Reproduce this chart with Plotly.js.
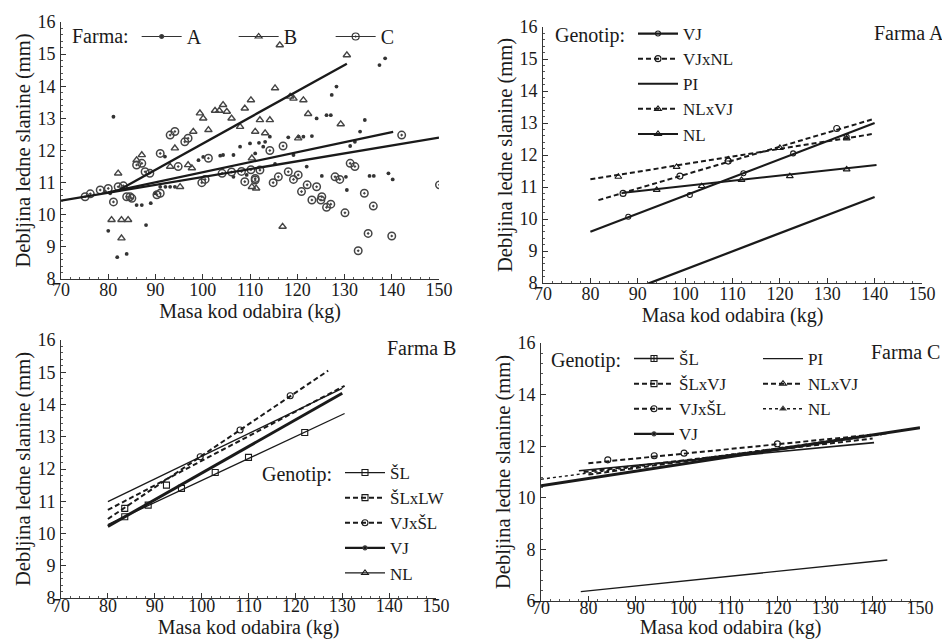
<!DOCTYPE html>
<html>
<head>
<meta charset="utf-8">
<script src="https://cdn.plot.ly/plotly-3.0.1.min.js"></script>
<style>html,body{margin:0;padding:0;background:#fff;}#chart{width:942px;height:639px;}</style>
</head>
<body>
<div id="chart"></div>
<script>
// ---------- Panel 1: all farms (scatter + regression lines) ----------
const p1A_x = [81.1,80.0,81.9,83.9,86.0,87.1,88.0,89.0,91.0,92.1,93.1,94.1,92.0,99.1,100.1,103.7,104.3,106.5,107.9,110.0,111.9,113.2,114.2,111.1,112.8,118.1,120.3,121.3,123.1,119.2,115.3,122.0,124.1,126.2,127.1,127.3,128.3,133.3,134.3,131.2,132.2,137.4,138.6,125.2,130.3,130.5,135.3,136.2,139.3,140.2,106.5,109.3,79.3,80.4,89.9];
const p1A_y = [13.05,9.5,8.68,8.78,10.3,10.3,9.68,10.36,10.87,10.87,10.87,10.87,11.81,11.7,11.8,11.84,11.86,11.86,12.12,12.22,12.24,12.27,12.43,11.91,12.12,12.41,12.43,12.43,12.45,11.86,11.58,11.5,13.0,13.1,13.1,13.73,13.99,12.59,12.95,12.14,12.27,14.66,14.87,11.21,11.18,10.77,11.21,11.21,11.29,11.1,11.18,11.24,10.72,10.67,10.67];
const p1B_x = [116.3,130.5,115.3,118.5,119.2,121.3,122.3,129.2,110.2,112.1,114.2,111.1,113.2,120.2,111.3,116.9,110.4,86.0,87.1,82.1,94.1,98.0,99.4,100.1,101.2,102.6,103.5,104.3,105.1,106.1,108.9,107.9,110.4,93.1,96.9,97.7,95.2,80.7,82.8,84.2,82.8];
const p1B_y = [15.28,14.97,13.94,13.68,13.62,13.57,13.14,12.82,13.57,12.95,12.95,12.59,12.54,12.38,10.82,9.63,10.87,11.7,11.86,11.29,12.07,12.59,13.16,13.0,12.64,13.24,13.24,13.42,13.21,13.0,13.31,12.74,11.76,11.5,11.55,11.45,10.87,9.84,9.84,9.84,9.27];
const p1C_x = [86.0,87.1,87.8,88.8,91.0,93.1,94.1,96.2,96.9,94.8,101.2,90.3,91.0,84.6,83.9,85.0,81.1,75.1,76.2,78.3,80.0,82.1,83.2,100.5,104.1,106.1,108.2,110.2,108.9,111.1,117.0,114.2,112.1,111.1,116.0,118.1,119.2,120.2,114.9,120.9,122.1,124.1,123.1,125.0,125.2,126.2,127.1,128.0,129.0,130.1,131.2,132.2,134.2,136.1,135.0,140.0,132.9,142.1,150.1,99.8];
const p1C_y = [11.55,11.6,11.34,11.29,11.91,12.48,12.59,12.27,12.38,11.5,11.76,10.62,10.67,10.56,10.56,10.51,10.4,10.56,10.65,10.77,10.82,10.87,10.9,11.1,11.29,11.33,11.35,11.4,11.03,11.08,12.14,12.0,11.39,11.13,11.18,11.34,11.1,11.24,11.0,10.72,10.93,10.87,10.46,10.46,10.56,10.23,10.33,11.18,11.1,10.06,11.6,11.5,10.67,10.27,9.42,9.34,8.88,12.48,10.93,11.0];
const p1LineA_x = [80, 140.3], p1LineA_y = [10.7, 12.58];
const p1LineB_x = [82, 130.5], p1LineB_y = [10.75, 14.7];
const p1LineC_x = [70, 150],   p1LineC_y = [10.44, 12.4];

// ---------- Panel 2: Farma A ----------
const p2Names = ['VJ','VJxNL','PI','NLxVJ','NL'];
const p2Line_x = [[80,140],[81.7,139.7],[92.2,140],[80,139.7],[87,140.4]];
const p2Line_y = [[9.6,13.0],[10.59,13.12],[7.98,10.69],[11.24,12.66],[10.82,11.69]];
const p2Mark_x = [[88.0,101.0,112.3,122.8,134.1],[86.9,98.9,109.1,132.0],[],[85.9,98.2,109.1,120.0,134.1],[94.0,103.5,111.9,122.1,134.1]];
const p2Mark_y = [[10.07,10.75,11.43,12.05,12.57],[10.80,11.34,11.81,12.83],[],[11.32,11.63,11.86,12.22,12.52],[10.91,11.03,11.22,11.34,11.55]];

// ---------- Panel 3: Farma B ----------
const p3Names = ['ŠL','ŠLxLW','VJxŠL','VJ','NL'];
const p3Line_x = [[80,130.5],[80,130.5],[80,127],[80,130],[80,130]];
const p3Line_y = [[10.28,13.72],[10.73,14.58],[10.45,15.05],[10.22,14.35],[10.99,14.5]];
const p3Mark_x = [[83.6,88.6,95.7,102.9,110.0,122.0],[83.6,92.5],[99.7,108.2,118.9],[],[]];
const p3Mark_y = [[10.52,10.88,11.4,11.89,12.36,13.13],[10.78,11.5],[12.38,13.21,14.27],[],[]];

// ---------- Panel 4: Farma C ----------
const p4Names = ['ŠL','ŠLxVJ','VJxŠL','VJ','PI','NLxVJ','NL'];
const p4Line_x = [[78,140.3],[79,140],[80,139.6],[70,150],[78.4,143.1],[80,143],[70,142]];
const p4Line_y = [[11.05,12.14],[11.0,12.3],[11.34,12.44],[10.47,12.72],[6.36,7.59],[10.9,12.5],[10.72,12.45]];
const p4Mark_x = [[],[],[84.1,93.9,100.2,119.9],[],[],[],[]];
const p4Mark_y = [[],[],[11.47,11.63,11.73,12.09],[],[],[],[]];

// ---------- styles ----------
const INK = '#1a1a1a';
const SERIF = 'Liberation Serif';
const DASH = '5px,3px';
const p2Style = [
  {dash:'solid', w:2.2, sym:'circle-open', ms:5},
  {dash:DASH, w:2, sym:'circle-open', ms:6},
  {dash:'solid', w:2.2, sym:null, ms:0},
  {dash:DASH, w:2, sym:'triangle-up-open', ms:6},
  {dash:'solid', w:2, sym:'triangle-up-open', ms:6}
];
const p3Style = [
  {dash:'solid', w:1.3, sym:'square-open', ms:6},
  {dash:DASH, w:2, sym:'square-open', ms:6},
  {dash:DASH, w:2, sym:'circle-open', ms:6},
  {dash:'solid', w:3, sym:'circle', ms:4},
  {dash:'solid', w:1.3, sym:'triangle-up-open', ms:6}
];
const p4Style = [
  {dash:'solid', w:1.6, sym:'square-cross-open', ms:6},
  {dash:DASH, w:2, sym:'square-open', ms:6},
  {dash:DASH, w:2, sym:'circle-open', ms:6},
  {dash:'solid', w:3, sym:'circle', ms:4},
  {dash:'solid', w:1.3, sym:null, ms:0},
  {dash:DASH, w:2, sym:'triangle-up-open', ms:6},
  {dash:'3px,3px', w:1.4, sym:'triangle-up', ms:5}
];

const traces = [];

// Panel 1 scatter
traces.push({x:p1A_x, y:p1A_y, xaxis:'x', yaxis:'y', mode:'markers', type:'scatter', showlegend:false,
  marker:{symbol:'circle', size:3.8, color:'#333'}});
traces.push({x:p1B_x, y:p1B_y, xaxis:'x', yaxis:'y', mode:'markers', type:'scatter', showlegend:false,
  marker:{symbol:'triangle-up-open', size:6.5, color:'#444', line:{width:1.4}}});
traces.push({x:p1C_x, y:p1C_y, xaxis:'x', yaxis:'y', mode:'markers', type:'scatter', showlegend:false,
  marker:{symbol:'circle-open-dot', size:7.5, color:'#444', line:{width:1.5}}});
// Panel 1 regression lines
[[p1LineA_x,p1LineA_y],[p1LineB_x,p1LineB_y],[p1LineC_x,p1LineC_y]].forEach(function(l){
  traces.push({x:l[0], y:l[1], xaxis:'x', yaxis:'y', mode:'lines', type:'scatter', showlegend:false,
    line:{color:INK, width:2.3}});
});
// Panel 1 legend keys
[['A','circle',4],['B','triangle-up-open',6],['C','circle-open-dot',7]].forEach(function(k){
  traces.push({x:[null], y:[null], xaxis:'x', yaxis:'y', name:k[0], mode:'lines+markers', type:'scatter',
    legend:'legend', line:{color:'#333', width:1.2}, marker:{symbol:k[1], size:k[2], color:'#333', line:{width:1.2}}});
});

function addPanel(names, lx, ly, mx, my, styles, ax, legendFor){
  names.forEach(function(n, i){
    const s = styles[i];
    traces.push({x:lx[i], y:ly[i], xaxis:'x'+ax, yaxis:'y'+ax, mode:'lines', type:'scatter', showlegend:false,
      line:{color:INK, width:s.w, dash:s.dash}});
    if (mx[i].length && s.sym){
      traces.push({x:mx[i], y:my[i], xaxis:'x'+ax, yaxis:'y'+ax, mode:'markers', type:'scatter', showlegend:false,
        marker:{symbol:s.sym, size:s.ms, color:INK, line:{width:1.1}}});
    }
    traces.push({x:[null], y:[null], xaxis:'x'+ax, yaxis:'y'+ax, name:n, type:'scatter',
      mode: s.sym ? 'lines+markers' : 'lines', legend: legendFor(i),
      line:{color:INK, width:Math.min(s.w,2.2), dash:s.dash},
      marker:{symbol:s.sym || 'circle', size:s.ms || 1, color:INK, line:{width:1.1}}});
  });
}
addPanel(p2Names, p2Line_x, p2Line_y, p2Mark_x, p2Mark_y, p2Style, '2', function(){return 'legend2';});
addPanel(p3Names, p3Line_x, p3Line_y, p3Mark_x, p3Mark_y, p3Style, '3', function(){return 'legend3';});
addPanel(p4Names, p4Line_x, p4Line_y, p4Mark_x, p4Mark_y, p4Style, '4', function(i){return i < 4 ? 'legend4' : 'legend5';});

// ---------- layout (pixel positions converted to paper fractions) ----------
const M = {l:40, r:0, t:0, b:38};
const PW = 942 - M.l - M.r, PH = 639 - M.t - M.b;
function fx(px){ return (px - M.l) / PW; }
function fy(py){ return (639 - M.b - py) / PH; }

function xAx(x0, x1, anchor, lso){
  return {domain:[fx(x0), fx(x1)], anchor:anchor, range:[70,150], dtick:10, tick0:70,
    showline:true, linecolor:'#333', linewidth:1, ticks:'inside', ticklen:5, tickcolor:'#333',
    minor:{dtick:2, ticks:'inside', ticklen:2, tickcolor:'#555'}, ticklabelstandoff:lso,
    showgrid:false, zeroline:false, tickfont:{family:SERIF, size:18, color:INK},
    title:{text:'Masa kod odabira (kg)', font:{family:SERIF, size:20, color:INK}, standoff:0}};
}
function yAx(y0, y1, anchor, range, dtick){
  return {domain:[fy(y1), fy(y0)], anchor:anchor, range:range, dtick:dtick,
    showline:true, linecolor:'#333', linewidth:1, ticks:'inside', ticklen:5, tickcolor:'#333',
    minor:{dtick:dtick/5, ticks:'inside', ticklen:2, tickcolor:'#555'}, ticklabelstandoff:1,
    showgrid:false, zeroline:false, tickfont:{family:SERIF, size:18, color:INK},
    title:{text:'Debljina ledne slanine (mm)', font:{family:SERIF, size:20.5, color:INK}, standoff:1}};
}
function leg(px, py, title, orient, fs, tfs){
  const o = {x:fx(px), y:fy(py), xanchor:'left', yanchor:'top', bgcolor:'rgba(0,0,0,0)', borderwidth:0,
    font:{family:SERIF, size:fs, color:INK}, itemwidth:40, tracegroupgap:0, itemclick:false,
    orientation: orient || 'v'};
  if (title) o.title = {text:title, side:'left', font:{family:SERIF, size:tfs, color:INK}};
  return o;
}
function note(text, px, py){
  return {text:text, xref:'paper', yref:'paper', x:fx(px), y:fy(py), xanchor:'left', yanchor:'middle',
    showarrow:false, font:{family:SERIF, size:20, color:INK}};
}

const layout = {
  width:942, height:639, margin:M, paper_bgcolor:'#fff', plot_bgcolor:'#fff',
  font:{family:SERIF, color:INK},
  xaxis: xAx(61, 439, 'y', -6),  yaxis: yAx(22, 279, 'x', [8,16], 1),
  xaxis2:xAx(543, 922, 'y2', -6), yaxis2:yAx(27, 283, 'x2', [8,16], 1),
  xaxis3:xAx(61, 436, 'y3', -9), yaxis3:yAx(340, 598, 'x3', [8,16], 1),
  xaxis4:xAx(541, 920, 'y4', -10), yaxis4:yAx(343, 601, 'x4', [6,16], 2),
  legend: Object.assign(leg(70, 17, 'Farma:', 'h', 20, 20), {entrywidth:42, entrywidthmode:'pixels'}),
  legend2: leg(553, 16, 'Genotip:', 'v', 17, 20),
  legend3: leg(260, 455, 'Genotip:', 'v', 17, 20),
  legend4: leg(549, 341, 'Genotip:', 'v', 17, 20),
  legend5: leg(758, 341, null, 'v', 17, 20),
  annotations: [note('Farma A', 872, 33), note('Farma B', 385, 348), note('Farma C', 869, 352)]
};

Plotly.newPlot('chart', traces, layout, {staticPlot:true, displayModeBar:false});
</script>
</body>
</html>
